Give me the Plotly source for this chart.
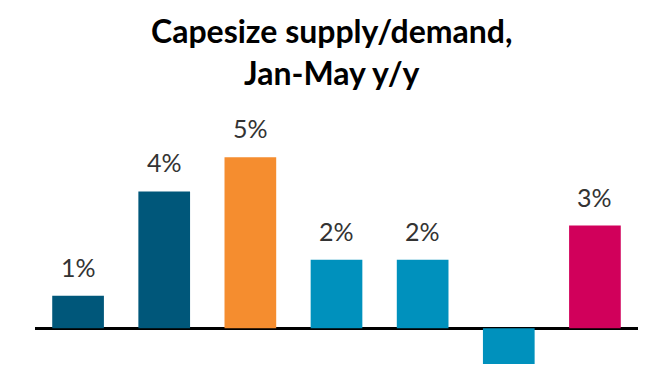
import plotly.graph_objects as go

categories = ["A", "B", "C", "D", "E", "F", "G"]
values = [0.95, 4.0, 5.0, 2.0, 2.0, -1.05, 3.0]
labels = ["1%", "4%", "5%", "2%", "2%", "", "3%"]
colors = ["#00577A", "#00577A", "#F58D2F", "#0091BD", "#0091BD", "#0091BD", "#D1005B"]

fig = go.Figure()
fig.add_trace(go.Bar(
    x=categories, y=values,
    marker=dict(color=colors, line=dict(width=0)),
    hoverinfo="skip",
))
for c, v, t in zip(categories, values, labels):
    if t:
        fig.add_annotation(x=c, y=v, text=t, showarrow=False, yanchor="bottom",
                           yshift=12, font=dict(family="Lato", size=25, color="#333333"))

fig.add_annotation(xref="paper", yref="paper", x=0.492, y=1.45, xanchor="center", yanchor="top",
                   text="<b>Capesize supply/demand,<br>Jan-May y/y</b>", showarrow=False,
                   font=dict(family="Lato", size=32, color="black"))

fig.update_layout(
    width=670, height=380,
    margin=dict(l=35, r=32, t=123, b=4),
    paper_bgcolor="white", plot_bgcolor="white",
    bargap=0.4,
    showlegend=False,
    xaxis=dict(visible=False, range=[-0.5, 6.5]),
    yaxis=dict(visible=True, range=[-1.4, 6.0], showgrid=False, showticklabels=False,
               zeroline=True, zerolinecolor="black", zerolinewidth=2.5, showline=False, ticks=""),
)
fig.write_html("out.html", config={"displayModeBar": False},
               post_script="document.body.style.margin='0';")
